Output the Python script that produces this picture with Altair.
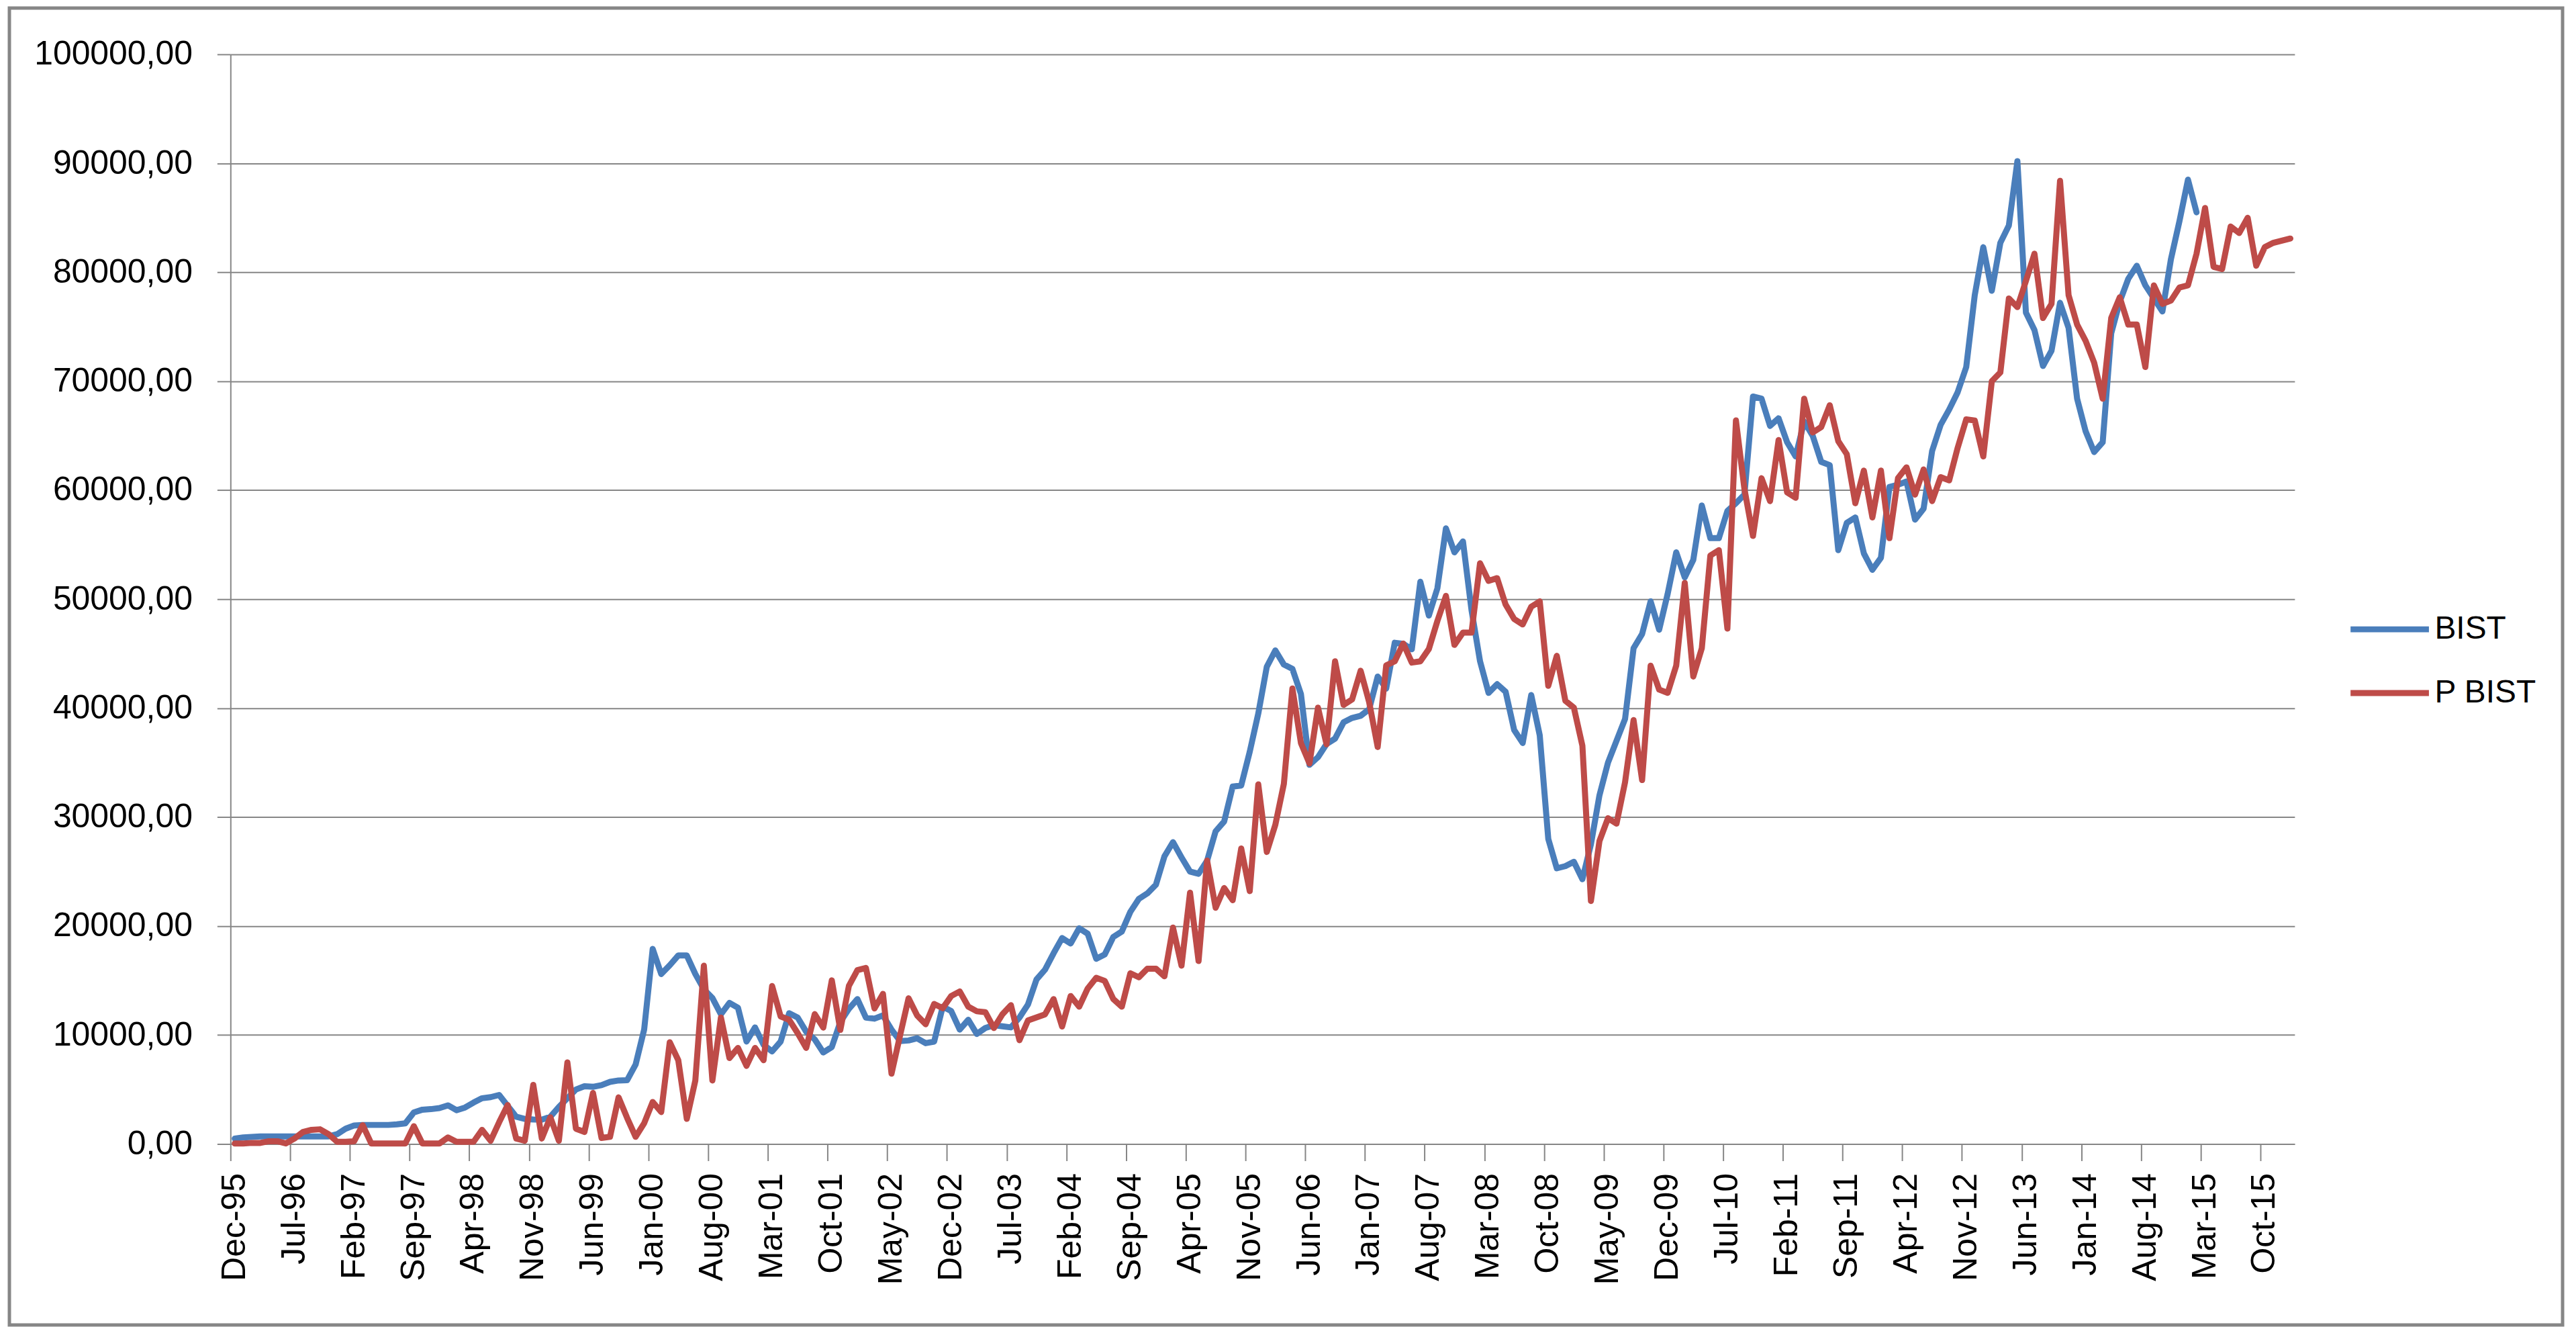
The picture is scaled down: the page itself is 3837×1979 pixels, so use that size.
import altair as alt
import pandas as pd

# x-axis tick labels (every 7th month, starting Dec-95)
tick_labels = ["Dec-95", "Jul-96", "Feb-97", "Sep-97", "Apr-98", "Nov-98", "Jun-99",
               "Jan-00", "Aug-00", "Mar-01", "Oct-01", "May-02", "Dec-02", "Jul-03",
               "Feb-04", "Sep-04", "Apr-05", "Nov-05", "Jun-06", "Jan-07", "Aug-07",
               "Mar-08", "Oct-08", "May-09", "Dec-09", "Jul-10", "Feb-11", "Sep-11",
               "Apr-12", "Nov-12", "Jun-13", "Jan-14", "Aug-14", "Mar-15", "Oct-15"]

n_months = 242  # Dec-95 .. Jan-16

series_names = ["BIST", "P BIST"]
series_colors = ["#4A7EBB", "#BE4B48"]

bist = [
    500, 600, 650, 700, 700, 700, 700, 700, 700, 700,
    700, 700, 900, 1400, 1700, 1750, 1750, 1750, 1750, 1800,
    1900, 2900, 3150, 3200, 3300, 3550, 3100, 3350, 3800, 4200,
    4300, 4500, 3500, 2500, 2300, 2250, 2240, 2500, 3400, 4200,
    5000, 5300, 5250, 5400, 5700, 5830, 5850, 7300, 10500, 17900,
    15600, 16400, 17300, 17300, 15600, 14200, 13400, 11900, 12950, 12500,
    9400, 10700, 9100, 8500, 9400, 12000, 11600, 10300, 9600, 8400,
    8900, 11200, 12400, 13300, 11600, 11500, 11800, 10500, 9450, 9500,
    9700, 9250, 9400, 12600, 12200, 10500, 11400, 10100, 10650, 10900,
    10800, 10700, 11600, 12800, 15100, 16000, 17500, 18900, 18400, 19800,
    19300, 17000, 17400, 19000, 19500, 21300, 22500, 23000, 23800, 26400,
    27700, 26300, 25000, 24800, 26000, 28700, 29600, 32800, 32900, 36000,
    39500, 43800, 45300, 44000, 43600, 41300, 34800, 35500, 36700, 37200,
    38700, 39100, 39300, 39900, 42900, 41800, 46000, 45900, 45400, 51600,
    48500, 51000, 56500, 54300, 55300, 49000, 44300, 41400, 42200, 41500,
    38000, 36800, 41200, 37500, 28000, 25300, 25500, 25900, 24300, 27500,
    32000, 35000, 37000, 39000, 45500, 46800, 49800, 47200, 50500, 54300,
    52000, 53600, 58600, 55600, 55600, 58100, 58800, 59600, 68600, 68400,
    65900, 66600, 64400, 63100, 66300, 65000, 62600, 62300, 54500, 57000,
    57500, 54200, 52700, 53800, 60300, 60500, 60800, 57300, 58300, 63600,
    66000, 67400, 69000, 71300, 77900, 82300, 78300, 82700, 84300, 90200,
    76300, 74700, 71400, 72800, 77200, 74900, 68400, 65400, 63500, 64400,
    74400, 77300, 79400, 80600, 78800, 77600, 76400, 81200, 84700, 88500,
    85500,
]

p_bist = [
    50, 50, 100, 100, 250, 250, 50, 500, 1100, 1300,
    1350, 900, 200, 200, 250, 1730, 50, 50, 50, 50,
    50, 1630, 50, 50, 50, 600, 200, 200, 200, 1300,
    300, 2000, 3580, 500, 300, 5430, 500, 2450, 300, 7490,
    1400, 1100, 4690, 560, 660, 4280, 2400, 660, 1900, 3860,
    2930, 9340, 7690, 2310, 5830, 16360, 5830, 11610, 7890, 8820,
    7170, 8820, 7690, 14500, 11710, 11400, 10170, 8820, 11920, 10680,
    15020, 10470, 14500, 15950, 16160, 12440, 13780, 6450, 9960, 13370,
    11800, 10990, 12850, 12460, 13580, 14000, 12600, 12180, 12100, 10640,
    11900, 12740, 9530, 11340, 11620, 11900, 13300, 10780, 13580, 12600,
    14270, 15250, 14970, 13300, 12600, 15670, 15300, 16090, 16090, 15390,
    19860, 16370, 23070, 16790, 26010, 21680, 23490, 22370, 27120, 23210,
    33000, 26800, 29300, 33050, 41800, 36800, 34930, 40050, 36680, 44300,
    40300, 40800, 43430, 40550, 36430, 43930, 44300, 45930, 44180, 44300,
    45430, 48000, 50300, 45800, 46930, 46930, 53300, 51680, 51930, 49500,
    48180, 47680, 49300, 49800, 42050, 44800, 40680, 40050, 36550, 22300,
    27800, 29900, 29400, 33200, 38900, 33400, 43900, 41700, 41400, 43900,
    51500, 42900, 45500, 54000, 54500, 47300, 66400, 60100, 55800, 61100,
    59000, 64600, 59800, 59300, 68400, 65300, 65800, 67800, 64500, 63300,
    58800, 61800, 57500, 61800, 55600, 61100, 62100, 59600, 61900, 59000,
    61200, 60900, 63900, 66500, 66400, 63100, 70000, 70800, 77600, 76800,
    79200, 81700, 75800, 77100, 88400, 77900, 75200, 73700, 71700, 68400,
    75800, 77700, 75200, 75200, 71300, 78800, 77100, 77400, 78600, 78800,
    81700, 85900, 80500, 80300, 84200, 83600, 85000, 80600, 82300, 82700,
    82900, 83100,
]

y_ticks = list(range(0, 100001, 10000))

rows = []
for i, v in enumerate(bist):
    rows.append({"month": i + 0.5, "series": "BIST", "value": v})
for i, v in enumerate(p_bist):
    rows.append({"month": i + 0.5, "series": "P BIST", "value": v})
df = pd.DataFrame(rows)

W, H = 3081, 1626
FONT = "Liberation Sans"
GRID = "#868686"

label_array = "[" + ",".join("'" + s + "'" for s in tick_labels) + "]"

lines = alt.Chart(df).mark_line(
    strokeWidth=9, strokeJoin="round", strokeCap="round"
).encode(
    x=alt.X(
        "month:Q",
        scale=alt.Scale(domain=[0, n_months], nice=False, zero=False),
        axis=alt.Axis(
            values=[7 * k for k in range(len(tick_labels))],
            labelExpr=label_array + "[round(datum.value / 7)]",
            labelAngle=270, labelFont=FONT, labelFontSize=50, labelColor="black",
            labelPadding=18, labelOffset=6, labelFlush=False, labelOverlap=False,
            labelLimit=0,
            tickSize=25, tickColor=GRID, tickWidth=2,
            domainColor=GRID, domainWidth=2, grid=False, title=None,
        ),
    ),
    y=alt.Y(
        "value:Q",
        scale=alt.Scale(domain=[0, 100000], nice=False),
        axis=alt.Axis(
            values=y_ticks,
            labelExpr="replace(format(datum.value, '.2f'), '.', ',')",
            labelFont=FONT, labelFontSize=50, labelColor="black", labelPadding=37,
            labelLimit=0,
            tickSize=20, tickColor=GRID, tickWidth=2,
            domainColor=GRID, domainWidth=2,
            grid=True, gridColor=GRID, gridWidth=2, title=None,
        ),
    ),
    color=alt.Color(
        "series:N",
        scale=alt.Scale(domain=series_names, range=series_colors),
        legend=alt.Legend(
            title=None, orient="none", legendX=3189, legendY=824,
            symbolType="M-2,0H2", symbolSize=3422, symbolStrokeWidth=9,
            labelFont=FONT, labelFontSize=48, labelColor="black",
            labelOffset=33, rowPadding=37, padding=0, labelLimit=0,
        ),
    ),
)

border = alt.Chart(pd.DataFrame({"b": [0]})).mark_rect(
    fill="transparent", stroke=GRID, strokeWidth=5
).encode(
    x=alt.value(-330), x2=alt.value(3481), y=alt.value(-69), y2=alt.value(1896)
)

chart = alt.layer(border, lines).properties(
    width=W, height=H,
    autosize=alt.AutoSizeParams(type="none"),
    padding={"left": 336, "top": 71, "right": 412, "bottom": 274},
    background="white",
).configure_view(strokeWidth=0)

chart.save("out.html", embed_options={"renderer": "svg", "actions": False})
